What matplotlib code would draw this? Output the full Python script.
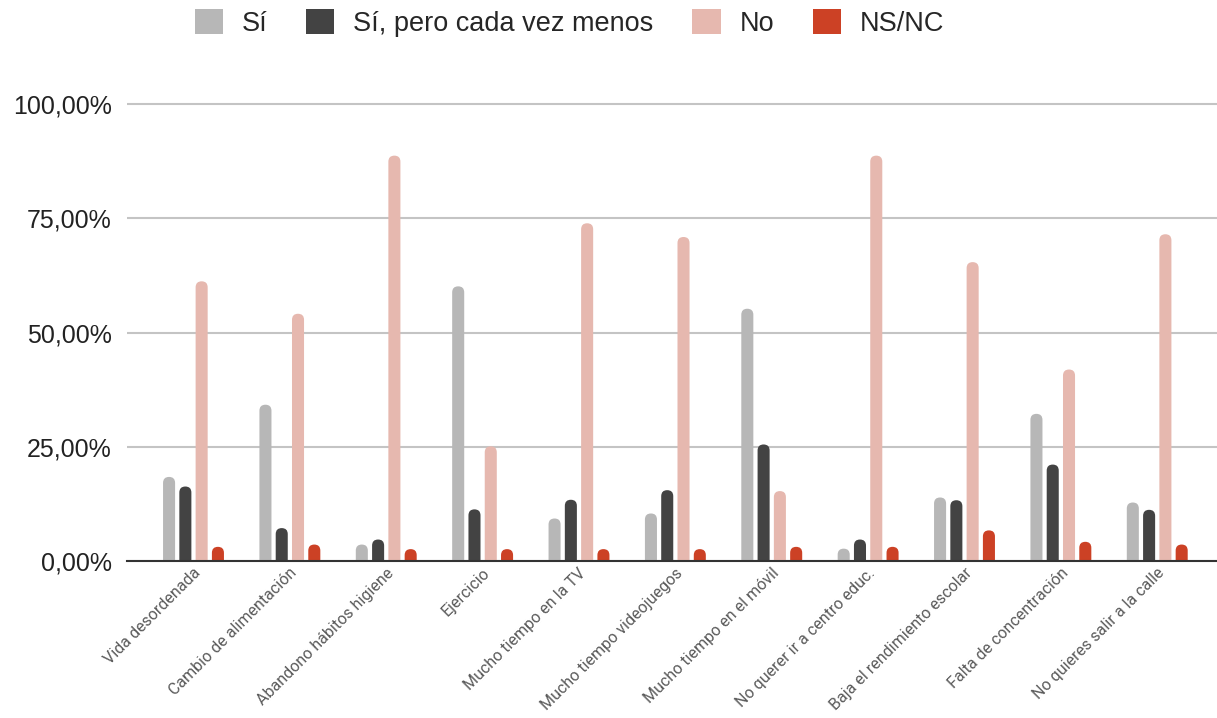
"""Encuesta: hábitos durante el confinamiento, barras agrupadas por pregunta."""
import numpy as np
import matplotlib
matplotlib.use("Agg")
import matplotlib.pyplot as plt
from matplotlib.patches import FancyBboxPatch
from matplotlib.ticker import FuncFormatter

categories = [
    "Vida desordenada", "Cambio de alimentación", "Abandono hábitos higiene",
    "Ejercicio", "Mucho tiempo en la TV", "Mucho tiempo videojuegos",
    "Mucho tiempo en el móvil", "No querer ir a centro educ.",
    "Baja el rendimiento escolar", "Falta de concentración",
    "No quieres salir a la calle",
]
series_names = ["Sí", "Sí, pero cada vez menos", "No", "NS/NC"]
si = [18.4, 34.2, 3.6, 60.1, 9.3, 10.4, 55.2, 2.7, 13.9, 32.2, 12.8]
si_menos = [16.3, 7.2, 4.7, 11.3, 13.4, 15.5, 25.5, 4.7, 13.3, 21.1, 11.2]
no = [61.2, 54.1, 88.7, 25.1, 73.9, 70.9, 15.3, 88.7, 65.4, 41.9, 71.5]
nsnc = [3.1, 3.6, 2.6, 2.6, 2.6, 2.6, 3.1, 3.1, 6.7, 4.2, 3.6]
yticks = [0, 25, 50, 75, 100]

colors = ["#b7b7b7", "#434343", "#e6b8af", "#cc4125"]

plt.rcParams["font.family"] = ["Liberation Sans", "DejaVu Sans"]

W, H = 1217, 718
fig = plt.figure(figsize=(W / 100, H / 100), dpi=100)
ax_l, ax_r, ax_b = 127, 1217, 561
ytop = 102.0
ax_h = 457 * ytop / 100
ax = fig.add_axes([ax_l / W, (H - ax_b) / H, (ax_r - ax_l) / W, ax_h / H])

xlim = (-0.69, 10.62)
ax.set_xlim(*xlim)
ax.set_ylim(0, ytop)

x = np.arange(len(categories))
step = 0.169
width = 0.125
# data units per pixel, for rounded bar tops
px_x = (xlim[1] - xlim[0]) / (ax_r - ax_l)
px_y = ytop / ax_h
rad_x = width / 2
rad_y = rad_x / px_x * px_y

for i, (vals, c) in enumerate(zip([si, si_menos, no, nsnc], colors)):
    bars = ax.bar(x + (i - 1.5) * step, vals, width, color=c, label=series_names[i])
    for p in bars.patches:
        bx, bw, bh = p.get_x(), p.get_width(), p.get_height()
        p.set_visible(False)
        ax.add_patch(FancyBboxPatch(
            (bx, -rad_y), bw, bh + rad_y,
            boxstyle=f"round,pad=0,rounding_size={rad_x}",
            mutation_aspect=rad_y / rad_x, facecolor=c, edgecolor="none",
            zorder=2))

ax.set_yticks(yticks)
ax.yaxis.set_major_formatter(FuncFormatter(lambda v, _: f"{v:.2f}%".replace(".", ",")))
ax.grid(axis="y", color="#c4c4c4", linewidth=1.5, zorder=0)
ax.set_axisbelow(True)
for s in ["top", "right", "left"]:
    ax.spines[s].set_visible(False)
ax.spines["bottom"].set_color("#333333")
ax.spines["bottom"].set_linewidth(1.5)
ax.spines["bottom"].set_zorder(3)
ax.tick_params(axis="y", length=0, pad=11, labelsize=18, labelcolor="#222222")
ax.tick_params(axis="x", length=0, pad=7)

ax.set_xticks(x + 0.05)
ax.set_xticklabels(categories, rotation=45, ha="right", va="center",
                   rotation_mode="anchor", fontsize=11.5, color="#5a5a5a",
                   family=["Roboto", "DejaVu Sans"])

handles = [FancyBboxPatch((0, 0), 1, 1, boxstyle="round,pad=0,rounding_size=0.15",
                          facecolor=c, edgecolor="none") for c in colors]
fig.legend(handles, series_names, loc="center", bbox_to_anchor=(0.468, 0.9675),
           ncol=4, frameon=False,
           prop={"family": ["Liberation Sans", "DejaVu Sans"], "size": 19.5},
           labelcolor="#262626",
           handlelength=1.04, handleheight=1.04, handletextpad=0.7,
           columnspacing=1.43)

fig.savefig("out.png", dpi=100)
